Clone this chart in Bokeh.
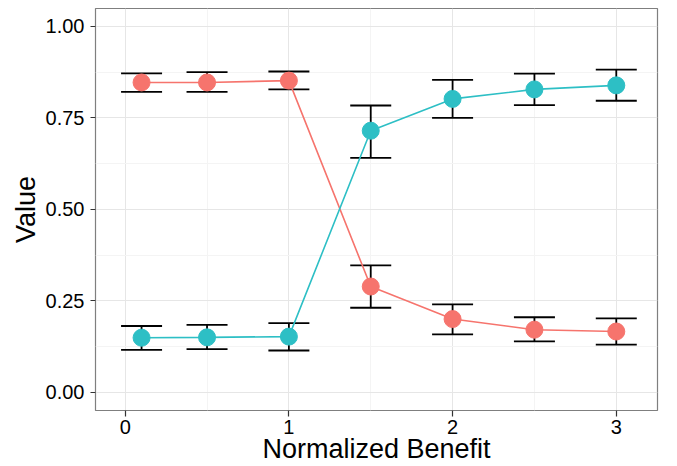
from bokeh.plotting import figure
from bokeh.models import Range1d, FixedTicker, ColumnDataSource, Whisker, TeeHead, NumeralTickFormatter
from bokeh.embed import file_html
from bokeh.resources import INLINE

# ---- data ----
benefit = [0.1, 0.5, 1.0, 1.5, 2.0, 2.5, 3.0]
red_mean = [0.847, 0.847, 0.852, 0.289, 0.200, 0.171, 0.166]
red_lower = [0.821, 0.821, 0.828, 0.231, 0.158, 0.139, 0.130]
red_upper = [0.872, 0.875, 0.877, 0.347, 0.240, 0.205, 0.202]
teal_mean = [0.149, 0.150, 0.152, 0.715, 0.802, 0.828, 0.839]
teal_lower = [0.116, 0.118, 0.114, 0.641, 0.750, 0.785, 0.797]
teal_upper = [0.181, 0.184, 0.189, 0.784, 0.854, 0.871, 0.882]

x_ticks = [0, 1, 2, 3]
x_minor = [0.5, 1.5, 2.5]
y_ticks = [0.0, 0.25, 0.5, 0.75, 1.0]
y_minor = [0.125, 0.375, 0.625, 0.875]

RED = "#F6746D"
TEAL = "#2DBFC5"
FONT = "Liberation Sans"

p = figure(width=677, height=466, output_backend="svg", toolbar_location=None,
           x_range=Range1d(-0.1814, 3.2518), y_range=Range1d(-0.05, 1.0492),
           min_border_left=95, min_border_right=20, min_border_top=8, min_border_bottom=56)

p.background_fill_color = "white"
p.border_fill_color = "white"
p.outline_line_color = "#7F7F7F"
p.outline_line_width = 1.2

p.xaxis.ticker = FixedTicker(ticks=x_ticks, minor_ticks=x_minor)
p.yaxis.ticker = FixedTicker(ticks=y_ticks, minor_ticks=y_minor)
p.yaxis.formatter = NumeralTickFormatter(format="0.00")

for g in (p.xgrid, p.ygrid):
    g.grid_line_color = "#E6E6E6"
    g.grid_line_width = 1
    g.minor_grid_line_color = "#F4F4F4"
    g.minor_grid_line_width = 1

for ax in (p.xaxis, p.yaxis):
    ax.axis_line_color = None
    ax.minor_tick_line_color = None
    ax.major_tick_line_color = "#333333"
    ax.major_tick_line_width = 1.2
    ax.major_tick_in = 0
    ax.major_label_text_font = FONT
    ax.major_label_text_font_size = "20px"
    ax.major_label_text_color = "black"
    ax.axis_label_text_font = FONT
    ax.axis_label_text_font_size = "27px"
    ax.axis_label_text_font_style = "normal"
    ax.axis_label_text_color = "black"

p.xaxis.major_tick_out = 6
p.xaxis.major_label_standoff = 3
p.xaxis.axis_label_standoff = -3
p.yaxis.major_tick_out = 5
p.yaxis.major_label_standoff = 6
p.yaxis.axis_label_standoff = 2

p.xaxis.axis_label = "Normalized Benefit"
p.yaxis.axis_label = "Value"

red_src = ColumnDataSource(dict(x=benefit, y=red_mean, lo=red_lower, hi=red_upper))
teal_src = ColumnDataSource(dict(x=benefit, y=teal_mean, lo=teal_lower, hi=teal_upper))

p.line("x", "y", source=red_src, line_color=RED, line_width=1.6)
p.line("x", "y", source=teal_src, line_color=TEAL, line_width=1.6)

for src in (red_src, teal_src):
    w = Whisker(base="x", upper="hi", lower="lo", source=src,
                line_color="black", line_width=1.8,
                upper_head=TeeHead(size=41, line_color="black", line_width=1.8),
                lower_head=TeeHead(size=41, line_color="black", line_width=1.8))
    p.add_layout(w)

p.scatter("x", "y", source=red_src, size=17, fill_color=RED, line_color=RED, level="overlay")
p.scatter("x", "y", source=teal_src, size=17, fill_color=TEAL, line_color=TEAL, level="overlay")

open("out.html", "w").write(file_html(p, INLINE))
